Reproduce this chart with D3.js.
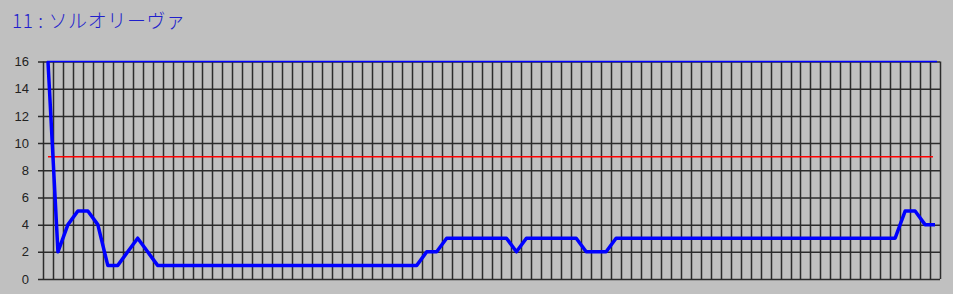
<!DOCTYPE html>
<html>
<head>
<meta charset="utf-8">
<script src="https://cdn.jsdelivr.net/npm/d3@7"></script>
<style>
  html, body { margin: 0; padding: 0; background: #c0c0c0; }
  svg { display: block; }
</style>
</head>
<body>
<svg width="953" height="294"></svg>
<script>
// chart data
var title = "11 : ソルオリーヴァ";
var values = [16, 2, 4, 5, 5, 4, 1, 1, 2, 3, 2,
  1, 1, 1, 1, 1, 1, 1, 1, 1, 1, 1, 1, 1, 1, 1, 1, 1, 1, 1, 1, 1, 1, 1, 1, 1, 1, 1,
  2, 2,
  3, 3, 3, 3, 3, 3, 3,
  2,
  3, 3, 3, 3, 3, 3,
  2, 2, 2,
  3, 3, 3, 3, 3, 3, 3, 3, 3, 3, 3, 3, 3, 3, 3, 3, 3, 3, 3, 3, 3, 3, 3, 3, 3, 3, 3, 3, 3,
  5, 5, 4, 4];
var yTicks = [0, 2, 4, 6, 8, 10, 12, 14, 16];
var thresholdValue = 9;
var maxValue = 16;

var categories = values.map(function(d, i) { return i; });

var svg = d3.select("svg"),
    width = +svg.attr("width"),
    height = +svg.attr("height");

// plot box (window.top is reserved, so use other names)
var plotL = 43, plotR = 940, plotT = 61.5, plotB = 279;

// scales
var x = d3.scaleBand()
    .domain(categories)
    .range([plotL, plotR])
    .padding(0);

var y = d3.scaleLinear()
    .domain([0, maxValue])
    .range([plotB, plotT]);

var cx = function(i) { return x(i) + x.bandwidth() / 2; };

// title
svg.append("text")
    .attr("x", 12)
    .attr("y", 28)
    .attr("fill", "#1f1fcc")
    .style("font-family", "'Noto Sans CJK JP', sans-serif")
    .style("font-size", "19px")
    .style("font-weight", "300")
    .style("letter-spacing", "0.6px")
    .style("white-space", "pre")
    .text(title);

// vertical grid (category boundaries)
var vlines = categories.map(function(c) { return x(c); }).concat([plotR]);
svg.append("g")
    .attr("class", "vgrid")
    .selectAll("line")
    .data(vlines)
    .enter().append("line")
      .attr("x1", function(d) { return Math.round(d) + 0.5; })
      .attr("x2", function(d) { return Math.round(d) + 0.5; })
      .attr("y1", plotT)
      .attr("y2", plotB)
      .attr("stroke", "#2b2b2b")
      .attr("stroke-width", 1.5);

// horizontal grid + labels
var yAxis = d3.axisLeft(y)
    .tickValues(yTicks)
    .tickSizeInner(-(plotR - plotL))
    .tickSizeOuter(0)
    .tickPadding(14);

var gy = svg.append("g")
    .attr("transform", "translate(" + plotL + ",0)")
    .call(yAxis);
gy.select(".domain").remove();
gy.selectAll(".tick line")
    .attr("x1", -5)
    .attr("stroke", "#2b2b2b")
    .attr("stroke-width", 1.5);
gy.selectAll(".tick text")
    .attr("fill", "#222")
    .style("font-family", "'Liberation Sans', Arial, sans-serif")
    .style("font-size", "13px");

// reference lines
svg.append("line")
    .attr("x1", cx(0) - 1).attr("x2", cx(values.length - 1) + 2)
    .attr("y1", y(maxValue)).attr("y2", y(maxValue))
    .attr("stroke", "#0000ff")
    .attr("stroke-width", 1.5);

svg.append("line")
    .attr("x1", cx(0)).attr("x2", cx(values.length - 1) - 2)
    .attr("y1", y(thresholdValue)).attr("y2", y(thresholdValue))
    .attr("stroke", "#ff0000")
    .attr("stroke-width", 1.5);

// data line
svg.append("clipPath").attr("id", "plot")
  .append("rect")
    .attr("x", plotL).attr("y", plotT - 1)
    .attr("width", plotR - plotL).attr("height", plotB - plotT + 2);

var line = d3.line()
    .x(function(d, i) { return cx(i); })
    .y(function(d) { return y(d); });

svg.append("path")
    .datum(values)
    .attr("clip-path", "url(#plot)")
    .attr("fill", "none")
    .attr("stroke", "#0000ff")
    .attr("stroke-width", 3.5)
    .attr("stroke-linejoin", "round")
    .attr("d", line);
</script>
</body>
</html>
